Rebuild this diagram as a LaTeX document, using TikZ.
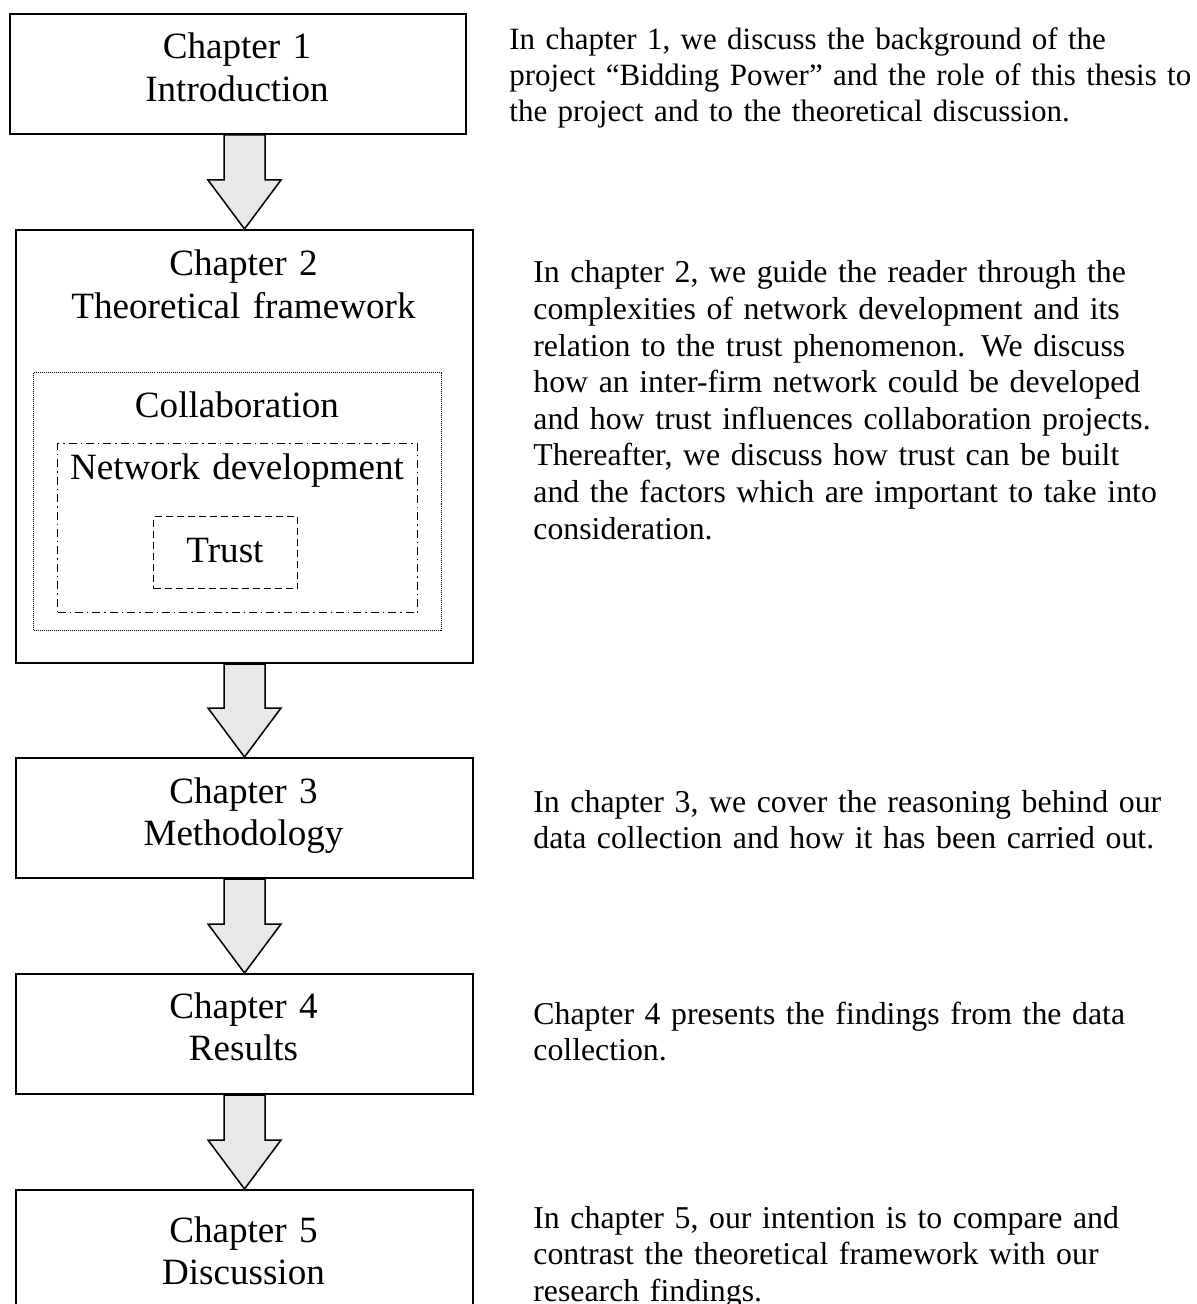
\documentclass[tikz,border=0pt]{standalone}
\usepackage{fontspec}
\setmainfont{Liberation Serif}
\usetikzlibrary{calc}
\newcommand\blockarrow[2]{%
  \draw[blockarr] ($(#1)+(-20.5,0)$) -- ($(#2)+(-20.5,-49)$) -- ($(#2)+(-36.5,-49)$) -- (#2)
    -- ($(#2)+(36.5,-49)$) -- ($(#2)+(20.5,-49)$) -- ($(#1)+(20.5,0)$) -- cycle;}
\begin{document}
\begin{tikzpicture}[x=0.5pt,y=-0.5pt,
  chbox/.style={draw=black,line width=1pt,fill=white,inner sep=0pt,anchor=north west},
  blockarr/.style={draw=black,line width=0.75pt,fill=arrowgray,line join=miter},
  boxtitle/.style={anchor=base,inner sep=0pt,text width=240pt,align=center,
    font=\fontsize{18.55}{21.35}\selectfont},
  desc/.style={anchor=base west,inner sep=0pt,text width=360pt,align=left,
    font=\fontsize{15.9}{18.3}\selectfont},
  descone/.style={desc,font=\fontsize{15.5}{17.8}\selectfont},
  dottedbox/.style={draw=black,line width=0.5pt,dash pattern=on 0.5pt off 0.5pt,inner sep=0pt,anchor=north west},
  dashdotbox/.style={draw=black,line width=0.6pt,dash pattern=on 4pt off 2pt on 0.7pt off 2pt,inner sep=0pt,anchor=north west},
  dashedbox/.style={draw=black,line width=0.6pt,dash pattern=on 3.5pt off 2pt,inner sep=0pt,anchor=north west}
]
\definecolor{arrowgray}{HTML}{E8E8E8}
\clip (0,0) rectangle (1196,1304);
\fill[white] (0,0) rectangle (1196,1304);

% chapter boxes
\node[chbox,minimum width=228pt,minimum height=60pt] (b1) at (9,13) {};
\node[chbox,minimum width=228.5pt,minimum height=216.5pt] (b2) at (15,229) {};
\node[chbox,minimum width=228.5pt,minimum height=60pt] (b3) at (15,757) {};
\node[chbox,minimum width=228.5pt,minimum height=60pt] (b4) at (15,973) {};
\node[chbox,minimum width=228.5pt,minimum height=80pt] (b5) at (15,1189) {};

% nested boxes in chapter 2
\node[dottedbox,minimum width=204pt,minimum height=129pt] (collab) at (33,372) {};
\node[dashdotbox,minimum width=180pt,minimum height=84.5pt] (netdev) at (57,443) {};
\node[dashedbox,minimum width=72pt,minimum height=36pt] (trust) at (153,516) {};

% block arrows
\blockarrow{b1.south -| b2.north}{b2.north}
\blockarrow{b2.south}{b3.north}
\blockarrow{b3.south}{b4.north}
\blockarrow{b4.south}{b5.north}

% box titles
\node[boxtitle] (t1) at (237,59) {Chapter 1\\Introduction};
\node[boxtitle] (t2) at (243.5,276) {Chapter 2\\Theoretical framework};
\node[boxtitle] (tc) at (237,417) {Collaboration};
\node[boxtitle] (tn) at (237,479) {Network development};
\node[boxtitle] (tt) at (225,562) {Trust};
\node[boxtitle] (t3) at (243.5,803) {Chapter 3\\Methodology};
\node[boxtitle] (t4) at (243.5,1018) {Chapter 4\\Results};
\node[boxtitle] (t5) at (243.5,1242) {Chapter 5\\Discussion};

% descriptions
\node[descone] (d1) at (509,50) {In chapter 1, we discuss the background of the\\
project “Bidding Power” and the role of this thesis to\\
the project and to the theoretical discussion.};
\node[desc] (d2) at (533,283) {In chapter 2, we guide the reader through the\\
complexities of network development and its\\
relation to the trust phenomenon. We discuss\\
how an inter-firm network could be developed\\
and how trust influences collaboration projects.\\
Thereafter, we discuss how trust can be built\\
and the factors which are important to take into\\
consideration.};
\node[desc] (d3) at (533,812) {In chapter 3, we cover the reasoning behind our\\
data collection and how it has been carried out.};
\node[desc] (d4) at (533,1024) {Chapter 4 presents the findings from the data\\
collection.};
\node[desc] (d5) at (533,1228) {In chapter 5, our intention is to compare and\\
contrast the theoretical framework with our\\
research findings.};
\end{tikzpicture}
\end{document}
